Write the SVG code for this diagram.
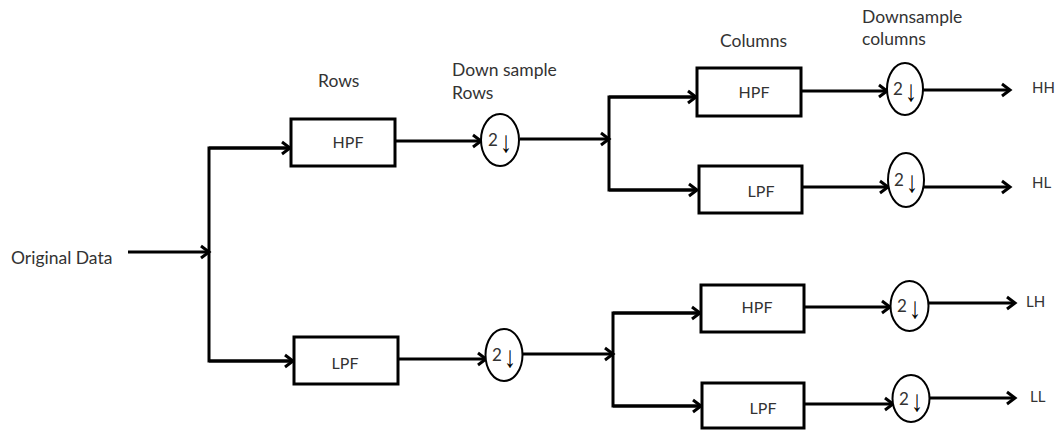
<svg xmlns="http://www.w3.org/2000/svg" width="1057" height="430" viewBox="0 0 1057 430">
<style>
.box{fill:#fff;stroke:#000;stroke-width:3}
.ds{fill:#fff;stroke:#000;stroke-width:2}
.ln{fill:none;stroke:#000;stroke-width:3}
.lbl{font-family:Lato,"Liberation Sans",sans-serif;font-size:17.5px;fill:#333}
.bl{font-family:Lato,"Liberation Sans",sans-serif;font-size:16px;fill:#333;text-anchor:middle}
.out{font-family:Lato,"Liberation Sans",sans-serif;font-size:15px;fill:#333}
.two{font-family:Lato,"Liberation Sans",sans-serif;font-size:17px;fill:#333}
.dn{font-family:"Liberation Sans","DejaVu Sans",sans-serif;font-size:24px;fill:#000}
</style>
<defs>
<marker id="arr" markerUnits="userSpaceOnUse" markerWidth="16" markerHeight="16" refX="11" refY="8" orient="auto" overflow="visible">
<path d="M3,2 L11,8 L3,14" fill="none" stroke="#000" stroke-width="3"/>
</marker>
</defs>
<rect width="1057" height="430" fill="#fff"/>

<g id="labels">
<text class="lbl" x="318" y="87">Rows</text>
<text class="lbl" x="11" y="264">Original Data</text>
<text class="lbl" x="452" y="76">Down sample</text>
<text class="lbl" x="452" y="99">Rows</text>
<text class="lbl" x="720" y="47">Columns</text>
<text class="lbl" x="862" y="23">Downsample</text>
<text class="lbl" x="862" y="45">columns</text>
</g>

<g id="connectors">
<line class="ln" x1="128" y1="252" x2="209" y2="252" marker-end="url(#arr)"/>
<polyline class="ln" points="289,148 209,148 209,361 292,361"/>
<line class="ln" x1="209" y1="148" x2="290" y2="148" marker-end="url(#arr)"/>
<line class="ln" x1="209" y1="361" x2="293" y2="361" marker-end="url(#arr)"/>
<line class="ln" x1="395" y1="141" x2="481" y2="141" marker-end="url(#arr)"/>
<line class="ln" x1="520" y1="139" x2="609" y2="139" marker-end="url(#arr)"/>
<polyline class="ln" points="695,97 609,97 609,190 696,190"/>
<line class="ln" x1="609" y1="97" x2="696" y2="97" marker-end="url(#arr)"/>
<line class="ln" x1="609" y1="190" x2="697" y2="190" marker-end="url(#arr)"/>
<line class="ln" x1="801" y1="91" x2="887" y2="91" marker-end="url(#arr)"/>
<line class="ln" x1="923" y1="90" x2="1010" y2="90" marker-end="url(#arr)"/>
<line class="ln" x1="802" y1="187" x2="888" y2="187" marker-end="url(#arr)"/>
<line class="ln" x1="924" y1="187" x2="1010" y2="187" marker-end="url(#arr)"/>
<line class="ln" x1="398" y1="359" x2="486" y2="359" marker-end="url(#arr)"/>
<line class="ln" x1="523" y1="354" x2="613" y2="354" marker-end="url(#arr)"/>
<polyline class="ln" points="699,313 613,313 613,406 700,406"/>
<line class="ln" x1="613" y1="313" x2="700" y2="313" marker-end="url(#arr)"/>
<line class="ln" x1="613" y1="406" x2="701" y2="406" marker-end="url(#arr)"/>
<line class="ln" x1="804" y1="307" x2="890" y2="307" marker-end="url(#arr)"/>
<line class="ln" x1="929" y1="303" x2="1015" y2="303" marker-end="url(#arr)"/>
<line class="ln" x1="804" y1="404" x2="893" y2="404" marker-end="url(#arr)"/>
<line class="ln" x1="930" y1="398" x2="1015" y2="398" marker-end="url(#arr)"/>
</g>

<g id="rows-hpf"><rect class="box" x="291" y="119" width="104" height="47"/><text class="bl" x="348" y="148">HPF</text></g>
<g id="rows-lpf"><rect class="box" x="294" y="337" width="104" height="47"/><text class="bl" x="345" y="369">LPF</text></g>

<g id="ds-rows-h"><ellipse class="ds" cx="500" cy="140" rx="19" ry="26"/><text class="two" x="488" y="146">2</text><text class="dn" transform="translate(500,152) scale(1,1.25)">↓︎</text></g>
<g id="ds-rows-l"><ellipse class="ds" cx="504" cy="355" rx="18.5" ry="26"/><text class="two" x="492" y="361">2</text><text class="dn" transform="translate(504,367) scale(1,1.25)">↓︎</text></g>

<g id="col-hpf-1"><rect class="box" x="697" y="68" width="104" height="48"/><text class="bl" x="754" y="98">HPF</text></g>
<g id="col-lpf-1"><rect class="box" x="699" y="166" width="103" height="47"/><text class="bl" x="761" y="197">LPF</text></g>
<g id="col-hpf-2"><rect class="box" x="701" y="285" width="103" height="47"/><text class="bl" x="757" y="313">HPF</text></g>
<g id="col-lpf-2"><rect class="box" x="702" y="383" width="102" height="45"/><text class="bl" x="763" y="414">LPF</text></g>

<g id="ds-hh"><ellipse class="ds" cx="905" cy="89" rx="18" ry="26"/><text class="two" x="893" y="95">2</text><text class="dn" transform="translate(905,101) scale(1,1.25)">↓︎</text></g>
<g id="ds-hl"><ellipse class="ds" cx="906" cy="180" rx="18" ry="27"/><text class="two" x="894" y="186">2</text><text class="dn" transform="translate(906,192) scale(1,1.25)">↓︎</text></g>
<g id="ds-lh"><ellipse class="ds" cx="909.5" cy="306" rx="19" ry="25"/><text class="two" x="897" y="312">2</text><text class="dn" transform="translate(909,318) scale(1,1.25)">↓︎</text></g>
<g id="ds-ll"><ellipse class="ds" cx="911" cy="398.5" rx="18.5" ry="23.5"/><text class="two" x="899" y="405">2</text><text class="dn" transform="translate(911,411) scale(1,1.25)">↓︎</text></g>

<g id="outputs">
<text class="out" x="1032" y="93">HH</text>
<text class="out" x="1032" y="188">HL</text>
<text class="out" x="1026" y="307">LH</text>
<text class="out" x="1030" y="402">LL</text>
</g>
</svg>
